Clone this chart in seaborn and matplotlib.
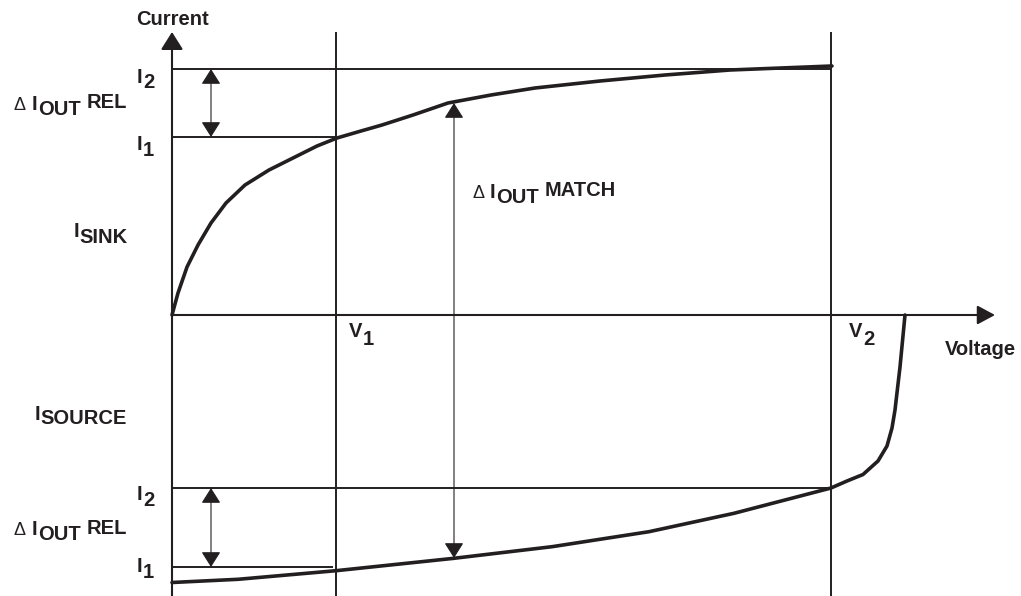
import matplotlib
matplotlib.use('Agg')
import matplotlib.pyplot as plt
import seaborn as sns

# Diagram units: 1 unit = 1 px of the reference, origin where the axes cross
VOLTAGE_SINK = [0, 6, 15, 26, 39, 54, 73, 97, 123, 145, 165, 189, 210, 241,
                276, 319, 363, 428, 493, 558, 660]
CURRENT_SINK = [0, 22, 48, 70, 92, 112, 130, 145, 158, 169, 177, 184, 190, 200,
                212, 220, 227, 234, 240, 245, 249]

VOLTAGE_SOURCE = [0, 66, 164, 282, 380, 477, 562, 659, 675, 691, 706, 715, 720,
                  723, 728, 733]
CURRENT_SOURCE = [-267.5, -264.3, -255.7, -243.3, -231.7, -216.7, -198.3, -173,
                  -166, -159.5, -146, -131, -113, -95, -52, 0]

V1, V2 = 164, 659
SINK_I1, SINK_I2 = 178, 246
SOURCE_I1, SOURCE_I2 = -252, -173
MATCH_V = 282
REL_V = 39

X_MIN, X_MAX = -172, 849
Y_MIN, Y_MAX = -281, 315
AXIS_TOP = 283
AXIS_RIGHT = 823

INK = '#231f20'
FS = 14.5
PX = 0.72  # points per reference pixel

sns.set_theme(style='white')
plt.rcParams['font.family'] = ['Liberation Sans', 'DejaVu Sans']


def label(ax, x, y, parts, ha='left'):
    """parts: (text, gap_px, rise_px, weight, size) drawn as one run of text."""
    def draw(part, xy, xycoords, dx, dy, halign, valign):
        text, _, _, weight, size = part
        return ax.annotate(text, xy=xy, xycoords=xycoords, xytext=(dx, dy),
                           textcoords='offset points', ha=halign, va=valign,
                           fontsize=size, fontweight=weight, color=INK)

    if ha == 'left':
        prev = draw(parts[0], (x, y), 'data', 0, parts[0][2] * PX, 'left', 'baseline')
        for i in range(1, len(parts)):
            p = parts[i]
            prev = draw(p, (1, 0), prev, p[1] * PX, (p[2] - parts[i - 1][2]) * PX,
                        'left', 'bottom')
    else:
        nxt = draw(parts[-1], (x, y), 'data', 0, parts[-1][2] * PX, 'right', 'baseline')
        for i in range(len(parts) - 2, -1, -1):
            p = parts[i]
            nxt = draw(p, (0, 0), nxt, -parts[i + 1][1] * PX,
                       (p[2] - parts[i + 1][2]) * PX, 'right', 'bottom')


def i_label(sub, sub_rise=-5.5, gap=0.5):
    return [('I', 0, 0, 'bold', FS), (sub, gap, sub_rise, 'bold', FS)]


def delta_label(tail):
    return [('\u0394', 0, 0, 'normal', 13),
            ('I', 6, 0, 'bold', FS),
            ('OUT', 0.5, -5, 'bold', FS),
            (tail, 6, 1.5, 'bold', FS)]


def arrow(ax, tail, tip, style, lw, hl, hw):
    ax.annotate('', xy=tip, xytext=tail, xycoords='data',
                arrowprops=dict(arrowstyle=f'{style},head_length={hl},head_width={hw}',
                                color=INK, lw=lw, shrinkA=0, shrinkB=0,
                                mutation_scale=1))


fig = plt.figure(figsize=(10.21, 5.96), dpi=100)
ax = fig.add_axes([0, 0, 1, 1])
ax.set_xlim(X_MIN, X_MAX)
ax.set_ylim(Y_MIN, Y_MAX)
ax.axis('off')

# axes with arrow heads
arrow(ax, (0, Y_MIN), (0, AXIS_TOP), '-|>', 1.5, 10.8, 6.8)
arrow(ax, (0, 0), (AXIS_RIGHT, 0), '-|>', 1.5, 10.8, 5.8)

# V1 / V2 verticals and I1 / I2 levels
ax.vlines([V1, V2], Y_MIN, AXIS_TOP, color=INK, lw=1.4)
ax.hlines(SINK_I2, 0, V2, color=INK, lw=1.4)
ax.hlines(SINK_I1, 0, V1, color=INK, lw=1.4)
ax.hlines(SOURCE_I2, 0, V2, color=INK, lw=1.4)
ax.hlines(SOURCE_I1, 0, V1 - 3, color=INK, lw=1.4)

# characteristic curves
sns.lineplot(x=VOLTAGE_SINK, y=CURRENT_SINK, sort=False, estimator=None,
             color=INK, lw=2.6, ax=ax)
sns.lineplot(x=VOLTAGE_SOURCE, y=CURRENT_SOURCE, sort=False, estimator=None,
             color=INK, lw=2.6, ax=ax)

# dimension arrows
arrow(ax, (REL_V, SINK_I1), (REL_V, SINK_I2), '<|-|>', 0.8, 9.5, 6)
arrow(ax, (REL_V, SOURCE_I1), (REL_V, SOURCE_I2), '<|-|>', 0.8, 9.5, 6)
arrow(ax, (MATCH_V, -243), (MATCH_V, 212), '<|-|>', 0.8, 9.5, 6)

# text
ax.text(0.5, 290, 'Current', ha='center', va='baseline', fontsize=FS,
        fontweight='bold', color=INK)
label(ax, 773, -40, [('Voltage', 0, 0, 'bold', FS)])

label(ax, -18, 232, i_label('2'), ha='right')
label(ax, -18, 165, i_label('1'), ha='right')
label(ax, -45, 205, delta_label('REL'), ha='right')
label(ax, -44, 78, i_label('SINK', -6), ha='right')
label(ax, -45, -105, i_label('SOURCE', -4.5), ha='right')
label(ax, -18, -185, i_label('2'), ha='right')
label(ax, -45, -220, delta_label('REL'), ha='right')
label(ax, -18, -257, i_label('1'), ha='right')
label(ax, 300, 117, delta_label('MATCH'))
label(ax, 177, -22, [('V', 0, 0, 'bold', FS), ('1', 0.5, -8, 'bold', FS)])
label(ax, 677, -22, [('V', 0, 0, 'bold', FS), ('2', 0.5, -8, 'bold', FS)])

fig.savefig('out.png', dpi=100)
